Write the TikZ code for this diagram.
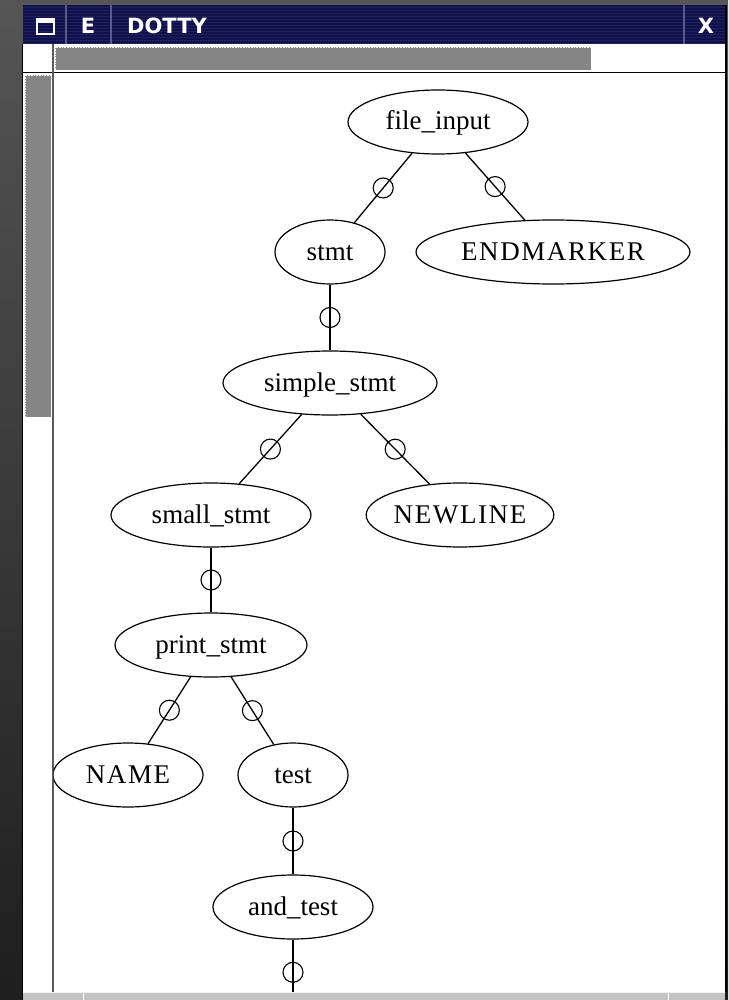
\documentclass[tikz,border=0pt]{standalone}
\usepackage{fontspec}
\setmainfont{Liberation Serif}
\newfontfamily\capsfont[LetterSpace=6]{Liberation Serif}
\newfontfamily\titlefont{DejaVu Sans}
\usetikzlibrary{shapes.geometric}
\definecolor{bgtop}{HTML}{555555}
\definecolor{bgmid}{HTML}{484848}
\definecolor{bgbot}{HTML}{1E1E1E}
\definecolor{navy}{HTML}{10104A}
\definecolor{navyline}{HTML}{20205E}
\definecolor{divider}{HTML}{5A5A8C}
\definecolor{thumb}{HTML}{858585}
\definecolor{framegray}{HTML}{5A5A5A}
\definecolor{statusgray}{HTML}{C4C4C4}
\begin{document}
\begin{tikzpicture}[x=1pt,y=-1pt,
  gnode/.style={ellipse, draw=black, line width=1.2pt, inner sep=0pt,
    font=\fontsize{27}{30}\selectfont, text height=20pt, text depth=4pt,
    minimum height=64pt},
  capsnode/.style={gnode, font=\capsfont\fontsize{27}{30}\selectfont},
  gedge/.style={draw=black, line width=1.3pt},
  mk/.style={circle, draw=black, line width=1.1pt, inner sep=0pt, minimum size=20pt},
  titletext/.style={text=white, font=\titlefont\bfseries\fontsize{21}{24}\selectfont, inner sep=0pt}]
\useasboundingbox (0,0) rectangle (728,1000);
% background
\shade[top color=bgtop, middle color=bgmid, bottom color=bgbot] (0,0) rectangle (728,1000);
% window content
\fill[white] (23,44) rectangle (725,992);
% title bar
\fill[navy] (23,5) rectangle (725,44);
\foreach \yy in {7,10,...,43} \draw[navyline, line width=0.8pt] (23,\yy) -- (725,\yy);
\foreach \xx in {66,111,684} \draw[divider, line width=2pt] (\xx,5) -- (\xx,44);
\draw[white, line width=2.2pt] (37,19) rectangle (54,34);
\fill[white] (36,18) rectangle (55,23);
\node[titletext] (tE) at (88,26) {E};
\node[titletext, anchor=west] (tT) at (127,26) {DOTTY};
\node[titletext] (tX) at (706,26) {X};
% scrollbars
\fill[thumb] (55,47) rectangle (591,70);
\draw[white, line width=0.6pt, densely dotted] (55,47) rectangle (591,70);
\fill[thumb] (25,75) rectangle (51,417);
\draw[white, line width=0.6pt, densely dotted] (25,75) rectangle (51,417);
\draw[black, line width=1.5pt] (23,72.5) -- (725,72.5);
\draw[framegray, line width=2pt] (52.5,44) -- (52.5,992);
\draw[black, line width=1.5pt] (22.5,44) -- (22.5,1000);
\draw[black, line width=2pt] (726,5) -- (726,992);
% status bar
\fill[statusgray] (23,992) rectangle (725,1000);
\draw[white!90!gray, line width=1.2pt] (23,992.6) -- (725,992.6);
\foreach \xx in {83,668} \draw[white, line width=1pt] (\xx,993) -- (\xx,1000);
% graph
\begin{scope}
\clip (53.5,73.5) rectangle (725,991.5);
\node[gnode, minimum width=180pt] (fi) at (438,122) {file\_input};
\node[gnode, minimum width=110pt] (stmt) at (330,252) {stmt};
\node[capsnode, minimum width=274pt] (end) at (553,252) {ENDMARKER};
\node[gnode, minimum width=214pt] (sstmt) at (330,383) {simple\_stmt};
\node[gnode, minimum width=200pt] (small) at (211,515) {small\_stmt};
\node[capsnode, minimum width=178pt] (nl) at (460,515) {NEWLINE};
\node[gnode, minimum width=192pt] (print) at (211,645) {print\_stmt};
\node[capsnode, minimum width=150pt] (name) at (128,775) {NAME};
\node[gnode, minimum width=110pt] (test) at (293,775) {test};
\node[gnode, minimum width=160pt] (andt) at (293,907) {and\_test};
\coordinate (cont) at (293,995);
\draw[gedge] (fi) -- node[mk] (m1) {} (stmt);
\draw[gedge] (fi) -- node[mk] (m2) {} (end);
\draw[gedge] (stmt) -- node[mk] (m3) {} (sstmt);
\draw[gedge] (sstmt) -- node[mk] (m4) {} (small);
\draw[gedge] (sstmt) -- node[mk] (m5) {} (nl);
\draw[gedge] (small) -- node[mk] (m6) {} (print);
\draw[gedge] (print) -- node[mk] (m7) {} (name);
\draw[gedge] (print) -- node[mk] (m8) {} (test);
\draw[gedge] (test) -- node[mk] (m9) {} (andt);
\draw[gedge] (andt) -- node[mk, pos=0.59] (m10) {} (cont);
\end{scope}
\end{tikzpicture}
\end{document}
